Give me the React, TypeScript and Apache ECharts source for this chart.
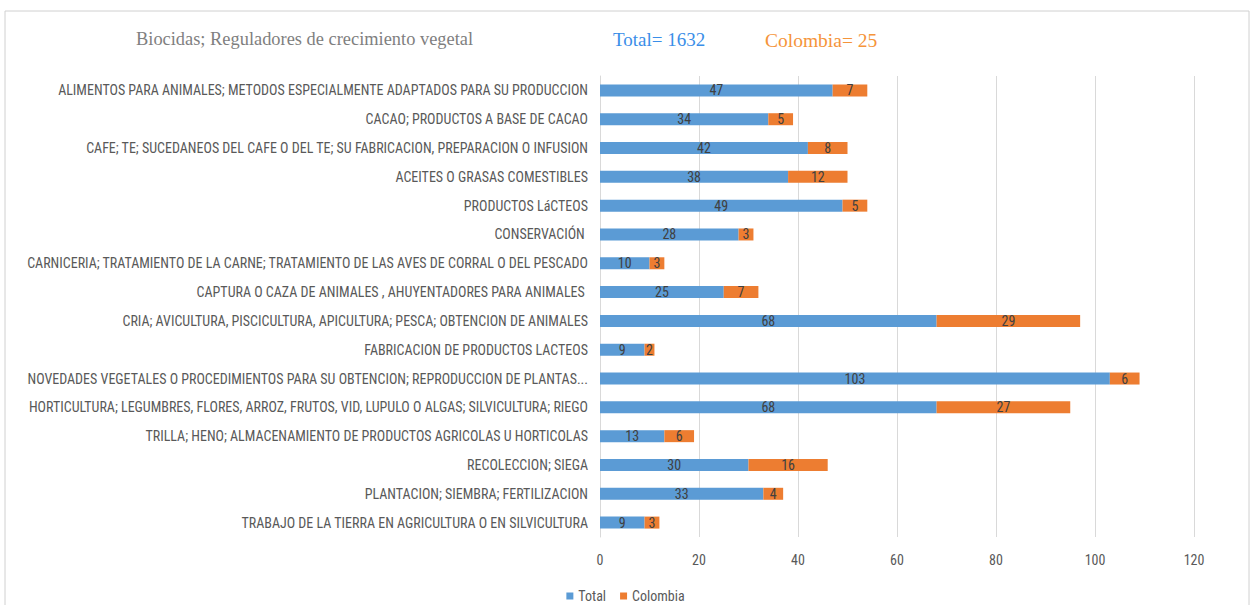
import React, { useEffect, useRef } from "react";
import * as echarts from "echarts";

const categories = [
  "ALIMENTOS PARA ANIMALES; METODOS ESPECIALMENTE ADAPTADOS PARA SU PRODUCCION",
  "CACAO; PRODUCTOS A BASE DE CACAO",
  "CAFE; TE; SUCEDANEOS DEL CAFE O DEL TE; SU FABRICACION, PREPARACION O INFUSION",
  "ACEITES O GRASAS COMESTIBLES",
  "PRODUCTOS LáCTEOS",
  "CONSERVACIÓN ",
  "CARNICERIA; TRATAMIENTO DE LA CARNE; TRATAMIENTO DE LAS AVES DE CORRAL O DEL PESCADO",
  "CAPTURA O CAZA DE ANIMALES , AHUYENTADORES PARA ANIMALES ",
  "CRIA; AVICULTURA, PISCICULTURA, APICULTURA; PESCA; OBTENCION DE ANIMALES",
  "FABRICACION DE PRODUCTOS LACTEOS",
  "NOVEDADES VEGETALES O PROCEDIMIENTOS PARA SU OBTENCION; REPRODUCCION DE PLANTAS...",
  "HORTICULTURA; LEGUMBRES, FLORES, ARROZ, FRUTOS, VID, LUPULO O ALGAS; SILVICULTURA; RIEGO",
  "TRILLA; HENO; ALMACENAMIENTO DE PRODUCTOS AGRICOLAS U HORTICOLAS",
  "RECOLECCION; SIEGA",
  "PLANTACION; SIEMBRA; FERTILIZACION",
  "TRABAJO DE LA TIERRA EN AGRICULTURA O EN SILVICULTURA",
];

const totalValues = [47, 34, 42, 38, 49, 28, 10, 25, 68, 9, 103, 68, 13, 30, 33, 9];
const colombiaValues = [7, 5, 8, 12, 5, 3, 3, 7, 29, 2, 6, 27, 6, 16, 4, 3];

const chartTitle = "Biocidas; Reguladores de crecimiento vegetal";
const totalText = "Total= 1632";
const colombiaText = "Colombia= 25";

const LABEL_FONT = "'Liberation Sans Narrow', 'Roboto Condensed', 'Liberation Sans', sans-serif";
const SERIF = "'Liberation Serif', 'DejaVu Serif', serif";

export default function App() {
  const ref = useRef<HTMLDivElement>(null);

  useEffect(() => {
    if (!ref.current) return;
    const chart = echarts.init(ref.current, null, { renderer: "svg" });
    const labelStyle = {
      show: true,
      position: "inside",
      color: "#404040",
      fontSize: 14,
      fontFamily: LABEL_FONT,
    };
    chart.setOption({
      animation: false,
      backgroundColor: "#ffffff",
      grid: { left: 600, right: 57, top: 76, bottom: 68, containLabel: false },
      graphic: [
        {
          type: "rect",
          shape: { x: 5, y: 11, width: 1244, height: 600 },
          style: { fill: "none", stroke: "#d0d0d0", lineWidth: 1 },
          silent: true,
        },
        {
          type: "text",
          left: 136,
          top: 30,
          style: { text: chartTitle, fill: "#7f7f7f", fontSize: 18.4, fontFamily: SERIF },
        },
        {
          type: "text",
          left: 613,
          top: 30,
          style: { text: totalText, fill: "#3a8ee8", fontSize: 19, fontFamily: SERIF },
        },
        {
          type: "text",
          left: 765,
          top: 30,
          style: { text: colombiaText, fill: "#f5943a", fontSize: 19.5, fontFamily: SERIF },
        },
      ],
      legend: {
        bottom: -3,
        left: "center",
        itemWidth: 7,
        itemHeight: 7,
        itemGap: 14,
        icon: "rect",
        textStyle: { color: "#595959", fontSize: 14, fontFamily: LABEL_FONT },
        data: ["Total", "Colombia"],
      },
      xAxis: {
        type: "value",
        min: 0,
        max: 120,
        interval: 20,
        axisLine: { show: false },
        axisTick: { show: false },
        axisLabel: { color: "#595959", fontSize: 14, fontFamily: LABEL_FONT, margin: 16 },
        splitLine: { show: true, lineStyle: { color: "#d9d9d9", width: 1 } },
      },
      yAxis: {
        type: "category",
        inverse: true,
        data: categories,
        axisLine: { show: true, lineStyle: { color: "#d9d9d9" } },
        axisTick: { show: false },
        axisLabel: { color: "#595959", fontSize: 14, fontFamily: LABEL_FONT, margin: 12 },
      },
      series: [
        {
          name: "Total",
          type: "bar",
          stack: "s",
          data: totalValues,
          barWidth: 12,
          itemStyle: { color: "#5b9bd5" },
          label: labelStyle,
        },
        {
          name: "Colombia",
          type: "bar",
          stack: "s",
          data: colombiaValues,
          barWidth: 12,
          itemStyle: { color: "#ed7d31" },
          label: labelStyle,
        },
      ],
    });
    return () => chart.dispose();
  }, []);

  return (
    <div
      ref={ref}
      style={{ position: "fixed", left: 0, top: 0, width: 1251, height: 605 }}
    />
  );
}
